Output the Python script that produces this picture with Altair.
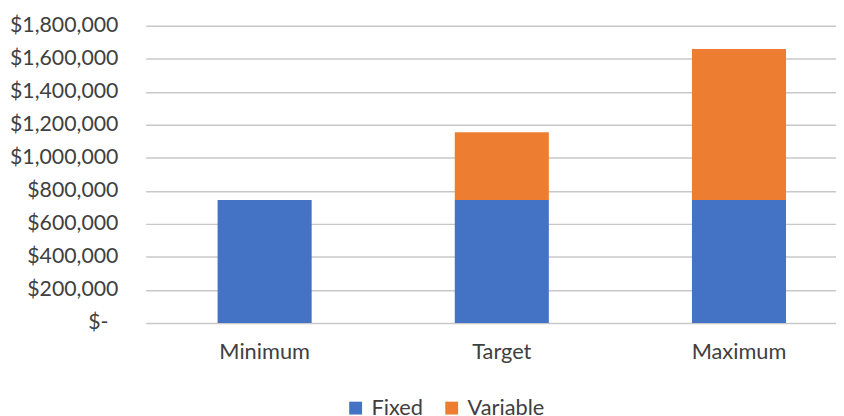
import altair as alt
import pandas as pd

categories = ["Minimum", "Target", "Maximum"]
series = ["Fixed", "Variable"]
fixed_values = [745000, 745000, 745000]
variable_values = [0, 410000, 915000]
colors = ["#4472C4", "#ED7D31"]

rows = []
for i, c in enumerate(categories):
    rows.append({"category": c, "series": "Fixed", "value": fixed_values[i], "ord": 0})
    rows.append({"category": c, "series": "Variable", "value": variable_values[i], "ord": 1})
df = pd.DataFrame(rows)

FONT = "Lato"
TXT = "#404040"

chart = alt.Chart(df).mark_bar().encode(
    x=alt.X("category:N", sort=categories, title=None,
            scale=alt.Scale(paddingInner=0.6034, paddingOuter=0.257, align=0.59, round=False),
            axis=alt.Axis(labelAngle=0, ticks=False, domain=False, labelPadding=19,
                          labelFont=FONT, labelFontSize=22, labelColor=TXT, grid=False)),
    y=alt.Y("value:Q", title=None, stack="zero",
            scale=alt.Scale(domain=[0, 1800000], nice=False),
            axis=alt.Axis(values=list(range(0, 1800001, 200000)), ticks=False, domain=False,
                          labelPadding={"condition": {"test": "datum.value == 0", "value": 38}, "value": 28},
                          labelFont=FONT, labelFontSize=21.5, labelColor=TXT,
                          labelExpr="datum.value == 0 ? '$-' : '$' + format(datum.value, ',')",
                          grid=True, gridColor="#c8c8c8", gridWidth=1.5)),
    color=alt.Color("series:N", sort=series, title=None,
                    scale=alt.Scale(domain=series, range=colors),
                    legend=alt.Legend(orient="none", direction="horizontal", legendX=201, legendY=375,
                                      symbolType="square", symbolSize=169, symbolStrokeWidth=0,
                                      labelFont=FONT, labelFontSize=22, labelColor=TXT,
                                      columnPadding=17, labelOffset=5)),
    order=alt.Order("ord:Q", sort="ascending"),
).properties(
    width=697, height=300,
    padding={"left": 139, "top": 16, "right": 0, "bottom": 92},
    autosize=alt.AutoSizeParams(type="none"),
).configure_view(stroke=None)

chart.save("out.html", embed_options={"renderer": "svg", "actions": False})
